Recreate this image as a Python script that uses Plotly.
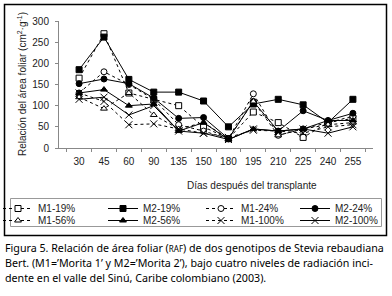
import plotly.graph_objects as go

days = ["30", "45", "60", "90", "135", "150", "180", "195", "210", "225", "240", "255"]

m1_19 = [165, 270, 130, 115, 100, 50, 22, 85, 60, 25, 60, 70]
m2_19 = [185, 262, 162, 132, 132, 111, 50, 104, 115, 102, 60, 115]
m1_24 = [130, 180, 150, 115, 55, 40, 22, 128, 30, 45, 60, 75]
m2_24 = [152, 163, 152, 118, 70, 72, 22, 110, 40, 88, 65, 82]
m1_56 = [120, 93, 130, 78, 45, 60, 22, 110, 30, 45, 55, 60]
m2_56 = [130, 138, 100, 104, 40, 60, 20, 45, 40, 45, 65, 65]
m1_100 = [130, 110, 55, 57, 45, 35, 25, 42, 40, 35, 50, 55]
m2_100 = [115, 120, 78, 100, 40, 35, 20, 45, 40, 45, 35, 50]

series = [
    ("M1-19%", m1_19, "dot", "square", "white"),
    ("M2-19%", m2_19, "solid", "square", "black"),
    ("M1-24%", m1_24, "dot", "circle", "white"),
    ("M2-24%", m2_24, "solid", "circle", "black"),
    ("M1-56%", m1_56, "dot", "triangle-up", "white"),
    ("M2-56%", m2_56, "solid", "triangle-up", "black"),
    ("M1-100%", m1_100, "dot", "x-thin-open", "black"),
    ("M2-100%", m2_100, "solid", "x-thin-open", "black"),
]

W, H = 392, 296
L, R, T, B = 59, 19, 21, 148
pw, ph = W - L - R, H - T - B

def px(x):
    return (x - L) / pw

def py(y):
    return (T + ph - y) / ph

col_text_x = [43, 148, 246, 340]
row_center_y = [204, 216]

fig = go.Figure()
legend_layouts = {}
for i, (name, vals, dash, sym, fill) in enumerate(series):
    lid = "legend" if i == 0 else f"legend{i + 1}"
    fig.add_trace(go.Scatter(
        x=days, y=vals, name=name, mode="lines+markers", legend=lid,
        line=dict(color="black", width=1, dash=dash),
        marker=dict(symbol=sym, size=6 if "x" not in sym else 7, color=fill,
                    line=dict(color="black", width=1)),
    ))
    col, row = i % 4, i // 4
    legend_layouts[lid] = dict(
        x=px(col_text_x[col] - 45), y=py(row_center_y[row] - 10),
        xanchor="left", yanchor="top", orientation="v",
        bgcolor="rgba(0,0,0,0)", borderwidth=0, itemwidth=30,
        font=dict(family="Liberation Sans, Arial, sans-serif", size=10, color="#222"),
    )

fig.update_layout(
    template="none",
    width=W, height=H,
    margin=dict(l=L, r=R, t=T, b=B, autoexpand=False),
    paper_bgcolor="white", plot_bgcolor="white",
    font=dict(family="Liberation Sans, Arial, sans-serif", size=10, color="#222"),
    showlegend=True,
    xaxis=dict(
        type="category", showgrid=False, showline=True, linecolor="#888", linewidth=1,
        ticks="outside", ticklen=3, tickcolor="#888", tickson="boundaries",
        tickangle=0, tickfont=dict(size=10, color="#222"), zeroline=False,
        automargin=False, ticklabelstandoff=4,
    ),
    yaxis=dict(
        range=[0, 300], dtick=50, showgrid=False, showline=True, linecolor="#888", linewidth=1,
        ticks="outside", ticklen=3, tickcolor="#888", zeroline=False,
        tickfont=dict(size=10, color="#222"), automargin=False, ticklabelstandoff=4,
    ),
    **legend_layouts,
)

# axis titles
fig.add_annotation(
    text="Días después del transplante", xref="paper", yref="paper",
    x=px(252), y=py(185), xanchor="center", yanchor="middle",
    showarrow=False, font=dict(size=10, color="#222"),
)
fig.add_annotation(
    text="Relación del área foliar (cm<sup>2</sup>·g<sup>-1</sup>)", xref="paper", yref="paper",
    x=px(22), y=py(84), xanchor="center", yanchor="middle",
    showarrow=False, textangle=-90, font=dict(size=10, color="#222"),
)

# legend box
fig.add_shape(type="rect", xref="paper", yref="paper",
              x0=px(10.5), x1=px(381.5), y0=py(226.5), y1=py(198.5),
              line=dict(color="#999", width=1))
# outer frame
fig.add_shape(type="rect", xref="paper", yref="paper",
              x0=px(4.5), x1=px(386.5), y0=py(235.5), y1=py(4.5),
              line=dict(color="black", width=1.5))

caption = [
    "Figura 5. Relación de área foliar (<span style='font-size:8px'>RAF</span>) de dos genotipos de Stevia rebaudiana",
    "Bert. (M1=’Morita 1’ y M2=’Morita 2’), bajo cuatro niveles de radiación inci-",
    "dente en el valle del Sinú, Caribe colombiano (2003).",
]
for i, line in enumerate(caption):
    fig.add_annotation(
        text=line, xref="paper", yref="paper", x=px(3), y=py(248 + 15 * i),
        xanchor="left", yanchor="middle", showarrow=False, align="left",
        font=dict(family="Noto Sans, sans-serif", size=10.7, color="black"),
    )

fig.write_html(
    "out.html",
    config={"displayModeBar": False},
    post_script="document.body.style.margin='0';document.body.style.padding='0';",
)
